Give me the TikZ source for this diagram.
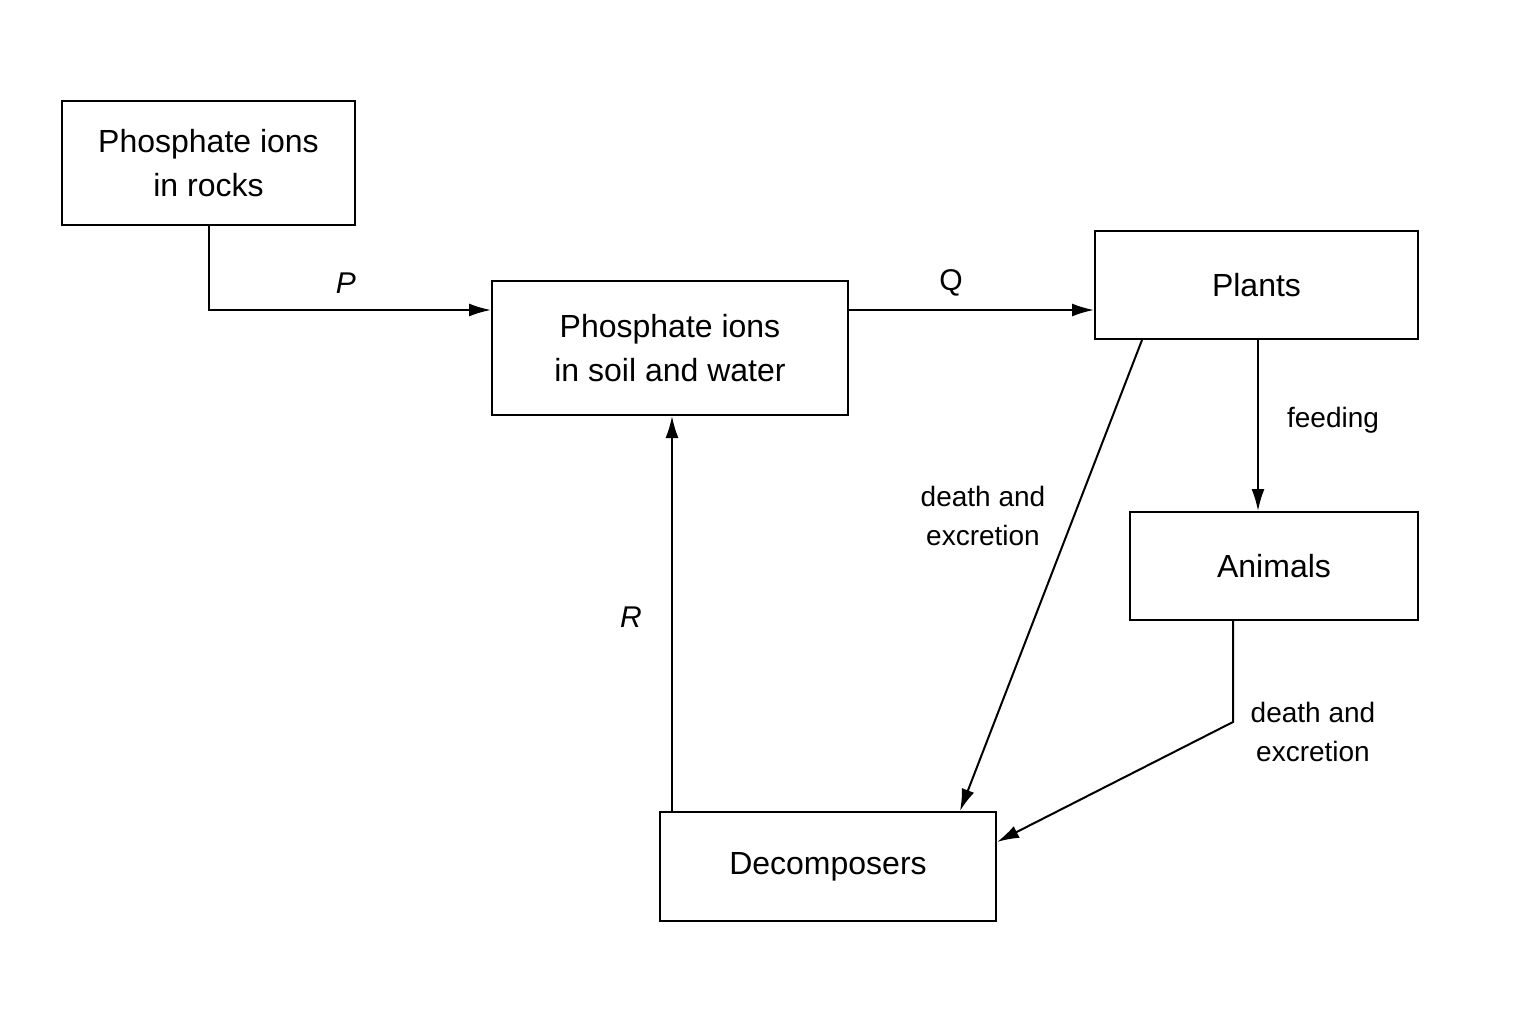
\documentclass[tikz,border=0pt]{standalone}
\usepackage{fontspec}
\setmainfont{Liberation Sans}
\usetikzlibrary{arrows.meta}
\begin{document}
\begin{tikzpicture}[x=1pt,y=-1pt,
  box/.style={draw,line width=2pt,inner sep=0pt,align=center,font=\fontsize{32}{44}\selectfont},
  lab/.style={align=center,font=\fontsize{28}{39}\selectfont},
  conn/.style={line width=2pt,-{Latex[length=22pt,width=13pt]}}]
\useasboundingbox (0,0) rectangle (1536,1024);
\node[box,minimum width=293pt,minimum height=124pt] (rocks) at (208.5,163) {Phosphate ions\\in rocks};
\node[box,minimum width=356pt,minimum height=134pt] (soil) at (670,348) {Phosphate ions\\in soil and water};
\node[box,minimum width=323pt,minimum height=108pt] (plants) at (1256.5,285) {Plants};
\node[box,minimum width=288pt,minimum height=108pt] (animals) at (1274,566) {Animals};
\node[box,minimum width=336pt,minimum height=109pt] (dec) at (828,866.5) {Decomposers};
\coordinate (c1) at (209,310);
\coordinate (c2) at (1233,722);
\draw[conn] (rocks.south -| c1) -- (c1) -- (c1 -| soil.west);
\draw[conn] (soil.east |- c1) -- (plants.west |- c1);
\draw[conn] (plants.south -| 1258,0) -- (animals.north -| 1258,0);
\draw[conn] (plants.south -| 1142,0) -- (960,811);
\draw[conn] (animals.south -| c2) -- (c2) -- (dec.east |- 0,842);
\draw[conn] (dec.north -| 672,0) -- (soil.south -| 672,0);
\node[lab,font=\fontsize{30}{40}\selectfont\itshape] (P) at (346,283) {P};
\node[lab,font=\fontsize{30}{40}\selectfont] (Q) at (951,283) {Q};
\node[lab,font=\fontsize{30}{40}\selectfont\itshape] (R) at (631,617) {R};
\node[lab] (fd) at (1333,420) {feeding};
\node[lab] (d1) at (983,516) {death and\\excretion};
\node[lab] (d2) at (1313,732) {death and\\excretion};
\end{tikzpicture}
\end{document}
